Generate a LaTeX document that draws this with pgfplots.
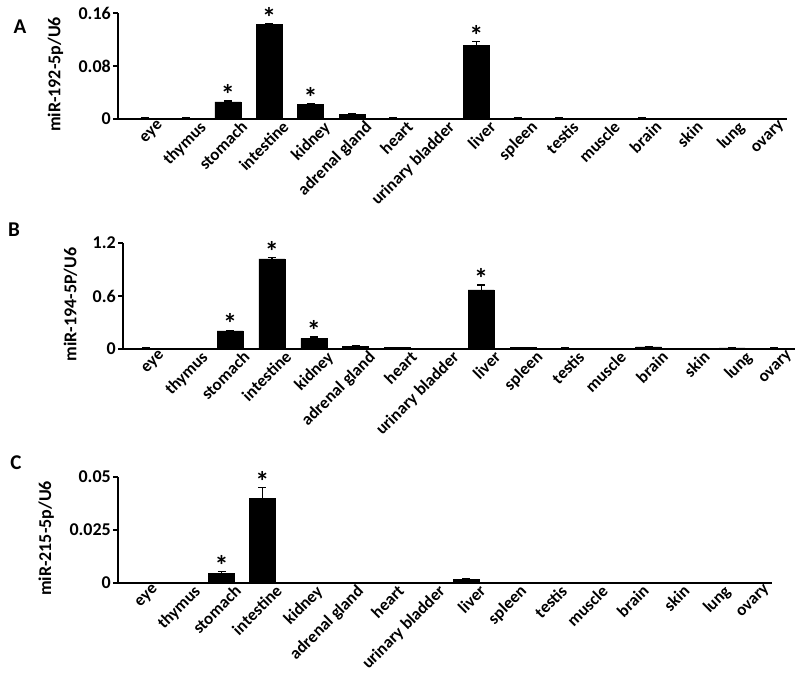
\documentclass[border=0pt]{standalone}
\usepackage{pgfplots}
\pgfplotsset{compat=1.18}
\usepackage{pgfplotstable}
\usepackage{fontspec}
\setmainfont{Carlito}

\pgfplotstableread{
x y e
0 0.0010 0.0003
1 0.0012 0.0003
2 0.0260 0.0010
3 0.1430 0.0015
4 0.0220 0.0010
5 0.0070 0.0007
6 0.0012 0.0003
7 0.0008 0.0002
8 0.1110 0.0060
9 0.0015 0.0003
10 0.0012 0.0003
11 0.0008 0.0002
12 0.0012 0.0003
13 0.0008 0.0002
14 0.0008 0.0002
15 0.0003 0.0001
}\dataA
\pgfplotstableread{
x y
2 0.0270
3 0.1445
4 0.0230
8 0.1170
}\starA

\pgfplotstableread{
x y e
0 0.010 0.003
1 0.006 0.002
2 0.205 0.008
3 1.020 0.015
4 0.120 0.015
5 0.030 0.005
6 0.015 0.005
7 0.006 0.002
8 0.670 0.055
9 0.015 0.004
10 0.008 0.002
11 0.006 0.002
12 0.025 0.006
13 0.006 0.002
14 0.012 0.003
15 0.008 0.002
}\dataB
\pgfplotstableread{
x y
2 0.213
3 1.035
4 0.135
8 0.725
}\starB

\pgfplotstableread{
x y e
0 0.0000 0
1 0.0000 0
2 0.0045 0.0008
3 0.0400 0.0050
4 0.0002 0.00005
5 0.0000 0
6 0.0000 0
7 0.0000 0
8 0.0017 0.0004
9 0.0000 0
10 0.0002 0.00005
11 0.0000 0
12 0.0000 0
13 0.0000 0
14 0.0000 0
15 0.0000 0
}\dataC
\pgfplotstableread{
x y
2 0.0053
3 0.0450
}\starC

\pgfplotsset{
  panel/.style={
    scale only axis,
    anchor=south west,
    height=106bp,
    axis lines*=left,
    axis line style={line width=1.6bp, -},
    ymin=0,
    xmax=15.5,
    scaled y ticks=false,
    xtick={0,...,15},
    xticklabels={eye,thymus,stomach,intestine,kidney,adrenal gland,heart,urinary bladder,liver,spleen,testis,muscle,brain,skin,lung,ovary},
    xticklabel style={rotate=45, anchor=north east, font=\fontsize{17bp}{19bp}\selectfont\bfseries, inner sep=1bp, yshift=-8bp, xshift=9bp},
    x tick style={draw=none},
    y tick style={line width=1.6bp, black},
    ytick align=outside,
    major tick length=5bp,
    yticklabel style={font=\fontsize{18bp}{20bp}\selectfont\bfseries, inner sep=2bp},
    ylabel style={font=\fontsize{18bp}{20bp}\selectfont\bfseries, at={(ticklabel cs:0.42,10bp)}},
    clip=false,
  },
  bars/.style={
    ybar, bar shift=0pt, bar width=26bp, fill=black, draw=black,
    error bars/.cd, y dir=plus, y explicit,
    error bar style={line width=1.3bp, black},
    error mark options={rotate=90, mark size=4bp, line width=1.3bp, black},
  },
  stars/.style={
    draw=none, mark=none,
    nodes near coords={*},
    nodes near coords align={above},
    every node near coord/.append style={font=\fontsize{28bp}{28bp}\selectfont\bfseries, inner sep=0pt, yshift=-4bp},
  },
}

\begin{document}
\begin{tikzpicture}
\useasboundingbox (0,0) rectangle (800bp,691bp);

% Panel A
\begin{axis}[panel, at={(118bp,572bp)}, width=669bp, xmin=-0.65, ymax=0.16,
  ytick={0,0.08,0.16}, yticklabels={0,0.08,0.16}, ylabel={miR-192-5p/U6}]
\addplot[bars] table[x=x, y=y, y error=e] {\dataA};
\addplot[stars] table[x=x, y=y] {\starA};
\end{axis}

% Panel B
\begin{axis}[panel, at={(123bp,342bp)}, width=672bp, xmin=-0.56, ymax=1.2,
  ytick={0,0.6,1.2}, yticklabels={0,0.6,1.2}, ylabel={miR-194-5P/U6}]
\addplot[bars] table[x=x, y=y, y error=e] {\dataB};
\addplot[stars] table[x=x, y=y] {\starB};
\end{axis}

% Panel C
\begin{axis}[panel, at={(118bp,108bp)}, width=654bp, xmin=-0.54, ymax=0.05,
  ytick={0,0.025,0.05}, yticklabels={0,0.025,0.05}, ylabel={miR-215-5p/U6}]
\addplot[bars] table[x=x, y=y, y error=e] {\dataC};
\addplot[stars] table[x=x, y=y] {\starC};
\end{axis}

\node[font=\fontsize{21bp}{22bp}\selectfont\bfseries] at (20bp,664bp) {A};
\node[font=\fontsize{21bp}{22bp}\selectfont\bfseries] at (14bp,461bp) {B};
\node[font=\fontsize{21bp}{22bp}\selectfont\bfseries] at (16bp,228bp) {C};
\end{tikzpicture}
\end{document}
